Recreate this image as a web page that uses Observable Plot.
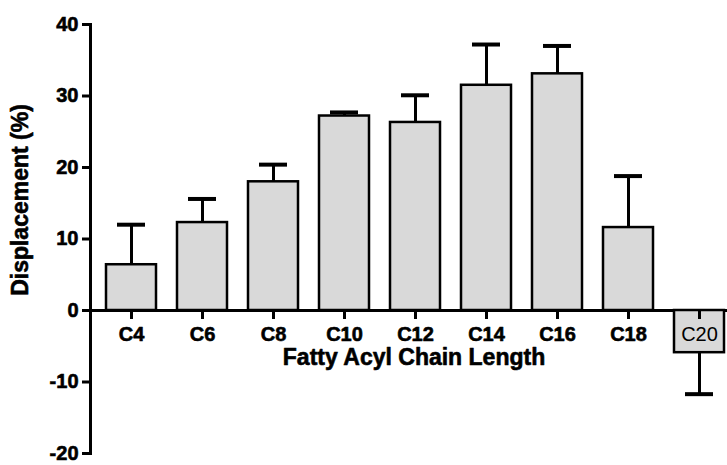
<!DOCTYPE html>
<html>
<head>
<meta charset="utf-8">
<script src="https://cdn.jsdelivr.net/npm/d3@7"></script>
<script src="https://cdn.jsdelivr.net/npm/@observablehq/plot@0.6"></script>
<style>
  html, body { margin: 0; padding: 0; background: #fff; }
  #chart svg { display: block; }
  #chart g[aria-label="y-axis tick"] path { stroke-width: 3px; }
  #chart g[aria-label="y-axis tick label"] text { stroke: #000; stroke-width: 0.6px; }
</style>
</head>
<body>
<div id="chart"></div>
<script>
const categories = ["C4", "C6", "C8", "C10", "C12", "C14", "C16", "C18", "C20"];
const means = [6.4, 12.3, 18.0, 27.2, 26.3, 31.5, 33.1, 11.6, -5.9];
const errorEnds = [12.0, 15.6, 20.4, 27.7, 30.1, 37.2, 37.0, 18.8, -11.7];
const yTicks = [-20, -10, 0, 10, 20, 30, 40];
const xTitle = "Fatty Acyl Chain Length";
const yTitle = "Displacement (%)";

const data = categories.map((c, i) => ({cat: c, mean: means[i], err: errorEnds[i]}));
const font = "Liberation Sans, Arial, Helvetica, sans-serif";

const W = 727, H = 465, mTop = 24, mBottom = 12, mLeft = 90;
const yDomain = [-20, 40];
// library y scale, used to move the category axis onto the zero line
const yScale = Plot.scale({y: {domain: yDomain, range: [H - mBottom, mTop]}});
const xAxisShift = yScale.apply(0) - (H - mBottom);

const chart = Plot.plot({
  width: W,
  height: H,
  marginLeft: mLeft,
  marginRight: 0,
  marginTop: mTop,
  marginBottom: mBottom,
  style: {fontFamily: font, background: "#fff", overflow: "visible"},
  x: {domain: categories, range: [80, 749], padding: 0.3, axis: null},
  y: {domain: yDomain, axis: null},
  marks: [
    Plot.ruleY([0], {stroke: "#000", strokeWidth: 3}),
    Plot.ruleX(data, {x: "cat", y1: "mean", y2: "err", stroke: "#000", strokeWidth: 3}),
    Plot.tickY(data, {x: "cat", y: "err", stroke: "#000", strokeWidth: 4, insetLeft: 11, insetRight: 11}),
    Plot.barY(data, {x: "cat", y1: 0, y2: "mean", fill: "#d9d9d9", stroke: "#000", strokeWidth: 2.5}),
    Plot.text(data.filter(d => d.cat !== "C20"), {x: "cat", y: 0, text: "cat", dy: 24, fontSize: 20, fontWeight: "bold", fill: "#000", stroke: "#000", strokeWidth: 0.6}),
    Plot.text(data.filter(d => d.cat === "C20"), {x: "cat", y: 0, text: "cat", dy: 24, fontSize: 20, fontWeight: "normal", fill: "#000"}),
    Plot.axisX({anchor: "bottom", tickSize: 9, tickFormat: () => "", stroke: "#000", strokeWidth: 3, dy: xAxisShift, label: null}),
    Plot.axisY({ticks: yTicks, tickSize: 8, tickPadding: 4, strokeWidth: 3, fontSize: 20, fontWeight: "bold", label: null, tickFormat: d => String(d), fill: "#000"}),
    Plot.frame({anchor: "left", stroke: "#000", strokeWidth: 3}),
    Plot.text([xTitle], {text: d => d, frameAnchor: "middle", y: 0, dy: 47, dx: 5, fontSize: 23, fontWeight: "bold", fill: "#000", stroke: "#000", strokeWidth: 0.6}),
    Plot.text([yTitle], {text: d => d, frameAnchor: "left", textAnchor: "middle", dx: -70, dy: -39, rotate: -90, fontSize: 23, fontWeight: "bold", fill: "#000", stroke: "#000", strokeWidth: 0.6})
  ]
});
document.getElementById("chart").appendChild(chart);
</script>
</body>
</html>
